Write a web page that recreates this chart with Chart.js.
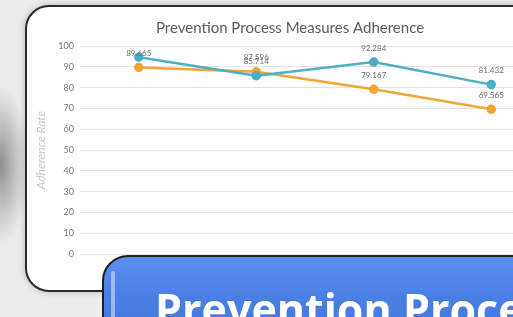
<!DOCTYPE html>
<html>
<head>
<meta charset="utf-8">
<script src="https://cdn.jsdelivr.net/npm/chart.js@4.4.1/dist/chart.umd.min.js"></script>
<style>
  html, body { margin: 0; padding: 0; }
  body {
    width: 513px; height: 317px; overflow: hidden; position: relative;
    background: radial-gradient(ellipse 30px 80px at 0px 165px, #8e8e8e 0%, #c4c4c4 55%, #ececec 100%), #ececec;
    font-family: Lato, "Open Sans", sans-serif;
  }
  .panel {
    position: absolute; left: 25px; top: 5px; width: 540px; height: 283px;
    background: #fff; border: 2px solid #2a2a2a; border-radius: 24px;
    box-shadow: 0 0 6px rgba(0,0,0,0.25);
  }
  #wrap { position: absolute; left: 0; top: 0; width: 560px; height: 317px; }
  .banner {
    position: absolute; left: 102px; top: 255px; width: 520px; height: 100px;
    border: 2px solid #1e1e1e; border-radius: 26px 0 0 0;
    background: linear-gradient(#5b8ff0, #4a7fe4 40%, #3f74d8);
    box-sizing: border-box;
  }
  .banner::before {
    content: ""; position: absolute; left: 7px; top: 14px; width: 4px; height: 60px;
    border-radius: 3px; background: rgba(255,255,255,0.45);
  }
  .banner span {
    position: absolute; left: 51px; top: 22px; white-space: nowrap;
    font-family: "Open Sans", sans-serif; font-weight: bold; font-size: 43px;
    color: #fff;
  }
</style>
</head>
<body>
<div class="panel"></div>
<div id="wrap"><canvas id="myChart"></canvas></div>
<div class="banner"><span>Prevention Process Measures Adherence</span></div>
<script>
// data
var categories = ['Q1', 'Q2', 'Q3', 'Q4'];
var blueValues = [94.6, 85.714, 92.284, 81.432];
var orangeValues = [89.665, 87.596, 79.167, 69.565];
var blueShowLabel = [false, true, true, true];
var orangeShowLabel = [true, true, true, true];
var yTicks = [0, 10, 20, 30, 40, 50, 60, 70, 80, 90, 100];

// small plugin that writes each value above its point
var pointLabels = {
    id: 'pointLabels',
    afterDatasetsDraw: function (chart) {
        var ctx = chart.ctx;
        ctx.save();
        ctx.font = '8px Lato';
        ctx.fillStyle = '#6a6a6a';
        ctx.textAlign = 'center';
        ctx.textBaseline = 'middle';
        chart.data.datasets.forEach(function (ds, i) {
            var meta = chart.getDatasetMeta(i);
            meta.data.forEach(function (pt, j) {
                if (!ds.showLabel[j]) return;
                ctx.fillText(ds.data[j].toFixed(3).replace(/0+$/, ''), pt.x, pt.y - 14);
            });
        });
        ctx.restore();
    }
};

var ctx = document.getElementById('myChart').getContext('2d');
var chart = new Chart(ctx, {
    type: 'line',
    data: {
        labels: categories,
        datasets: [{
            label: 'Series 1',
            data: blueValues,
            showLabel: blueShowLabel,
            borderColor: '#4eaec4',
            backgroundColor: '#4eaec4',
            borderWidth: 2.5,
            pointRadius: 3.5,
            tension: 0
        }, {
            label: 'Series 2',
            data: orangeValues,
            showLabel: orangeShowLabel,
            borderColor: '#f2a537',
            backgroundColor: '#f2a537',
            borderWidth: 2.5,
            pointRadius: 3.5,
            tension: 0
        }]
    },
    options: {
        responsive: true,
        maintainAspectRatio: false,
        animation: false,
        layout: { padding: { left: 30, right: 10, top: 0, bottom: 63 } },
        plugins: {
            legend: { display: false },
            tooltip: { enabled: false },
            title: {
                display: true,
                text: 'Prevention Process Measures Adherence',
                color: '#5c5c5c',
                font: { family: 'Lato', size: 15, weight: 'normal' },
                padding: { top: 19, bottom: 9 }
            }
        },
        scales: {
            x: {
                offset: true,
                ticks: { display: false },
                grid: { display: false },
                border: { display: false },
                afterFit: function (scale) { scale.height = 0; }
            },
            y: {
                min: 0,
                max: 100,
                afterBuildTicks: function (scale) {
                    scale.ticks = yTicks.map(function (v) { return { value: v }; });
                },
                ticks: { color: '#7a7a7a', font: { family: 'Lato', size: 9 }, padding: 6 },
                grid: { color: '#e4e4e4', drawTicks: false },
                border: { display: false },
                title: {
                    display: true,
                    text: 'Adherence Rate',
                    color: '#c8c8c8',
                    font: { family: 'Lato', size: 12, style: 'italic' }
                },
                afterFit: function (scale) { scale.width = 50; }
            }
        }
    },
    plugins: [pointLabels]
});
</script>
</body>
</html>
